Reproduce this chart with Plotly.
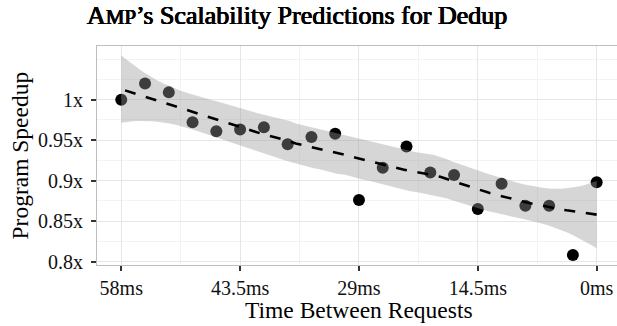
import numpy as np
import plotly.graph_objects as go

# ---- data ----
time_ms = [58.0, 55.1, 52.2, 49.3, 46.4, 43.5, 40.6, 37.7, 34.8, 31.9, 29.0,
           26.1, 23.2, 20.3, 17.4, 14.5, 11.6, 8.7, 5.8, 2.9, 0.0]
speedup = [1.000, 1.020, 1.009, 0.972, 0.961, 0.963, 0.966, 0.945, 0.954, 0.958, 0.876,
           0.916, 0.942, 0.910, 0.907, 0.865, 0.896, 0.869, 0.869, 0.808, 0.898]
x_tick_vals = [58, 43.5, 29, 14.5, 0]
x_tick_text = ["58ms", "43.5ms", "29ms", "14.5ms", "0ms"]
y_tick_vals = [0.8, 0.85, 0.9, 0.95, 1.0]
y_tick_text = ["0.8x", "0.85x", "0.9x", "0.95x", "1x"]

x = np.array(time_ms)
y = np.array(speedup)
n = len(x)


def t_quantile(df, z=1.959963985):
    g1 = (z**3 + z) / 4
    g2 = (5*z**5 + 16*z**3 + 3*z) / 96
    g3 = (3*z**7 + 19*z**5 + 17*z**3 - 15*z) / 384
    g4 = (79*z**9 + 776*z**7 + 1482*z**5 - 1920*z**3 - 945*z) / 92160
    return z + g1/df + g2/df**2 + g3/df**3 + g4/df**4


def loess_row(x0, span=0.75, degree=2):
    q = int(np.floor(n * span))
    d = np.abs(x - x0)
    h = np.sort(d)[q - 1]
    u = np.clip(d / h, 0, 1)
    w = (1 - u**3)**3
    X = np.vstack([(x - x0)**k for k in range(degree + 1)]).T
    XtW = X.T * w
    A = np.linalg.solve(XtW @ X, XtW)
    return A[0]


# loess smoother (as geom_smooth) with 95% confidence band
L = np.array([loess_row(xi) for xi in x])
IL = np.eye(n) - L
M = IL.T @ IL
d1 = np.trace(M)
d2 = np.trace(M @ M)
rss = np.sum((IL @ y)**2)
sigma = np.sqrt(rss / d1)
tq = t_quantile(d1**2 / d2)

xs = np.linspace(x.min(), x.max(), 80)
rows = np.array([loess_row(v) for v in xs])
fit = rows @ y
se = sigma * np.sqrt(np.sum(rows**2, axis=1))
upper = fit + tq * se
lower = fit - tq * se

FONT = "Liberation Serif"

fig = go.Figure()
fig.add_trace(go.Scatter(x=time_ms, y=speedup, mode="markers",
                         marker=dict(size=12, color="black"), showlegend=False,
                         hoverinfo="skip"))
fig.add_trace(go.Scatter(x=list(xs) + list(xs[::-1]),
                         y=list(upper) + list(lower[::-1]),
                         mode="lines", fill="toself",
                         fillcolor="rgba(153,153,153,0.4)",
                         line=dict(width=0), showlegend=False, hoverinfo="skip"))
fig.add_trace(go.Scatter(x=xs, y=fit, mode="lines",
                         line=dict(color="black", width=2.6, dash="11px,10.7px"),
                         showlegend=False, hoverinfo="skip"))

axis_common = dict(
    automargin=False,
    showline=True, mirror=True, linecolor="#BEBEBE", linewidth=1.2,
    ticks="outside", ticklen=5, tickwidth=1.5, tickcolor="#333333",
    showgrid=True, gridcolor="#E6E6E6", gridwidth=1.2, zeroline=False,
    tickfont=dict(family=FONT, size=20, color="#111111"),
)

fig.update_layout(
    width=617, height=326,
    margin=dict(l=97, r=0, t=46, b=61, autoexpand=False),
    paper_bgcolor="white", plot_bgcolor="white",
    title=dict(
        text="A<span style='font-size:21px'>MP</span>’s Scalability Predictions for Dedup",
        font=dict(family=FONT, size=26, color="black", weight="normal",
                  shadow="0.6px 0 0 #000, -0.3px 0 0 #000, 0 0.3px 0 #000"),
        x=297/617, xanchor="center", xref="container",
        y=1 - 6/326, yanchor="top", yref="container",
    ),
    xaxis=dict(range=[60.96, -2.48], tickmode="array", tickvals=x_tick_vals,
               ticktext=x_tick_text,
               minor=dict(tickmode="array", tickvals=[50.75, 36.25, 21.75, 7.25],
                          showgrid=True, gridcolor="#F3F3F3", gridwidth=1, ticks=""),
               **axis_common),
    yaxis=dict(range=[0.7957, 1.0663], tickmode="array", tickvals=y_tick_vals,
               ticktext=y_tick_text, ticklabelstandoff=4,
               minor=dict(tickmode="array",
                          tickvals=[0.825, 0.875, 0.925, 0.975, 1.025, 1.05],
                          showgrid=True, gridcolor="#F3F3F3", gridwidth=1, ticks=""),
               **axis_common),
    annotations=[
        dict(text="Time Between Requests", xref="paper", yref="paper",
             x=(359 - 97) / 520, y=-(310 - 265) / 219, xanchor="center", yanchor="middle",
             showarrow=False, font=dict(family=FONT, size=23.5, color="black")),
        dict(text="Program Speedup", xref="paper", yref="paper",
             x=(19 - 97) / 520, y=0.5, xanchor="center", yanchor="middle",
             textangle=-90, showarrow=False,
             font=dict(family=FONT, size=23.5, color="black")),
    ],
)

fig.write_html("out.html", config={"displayModeBar": False},
               post_script="document.body.style.margin='0';document.body.style.overflow='hidden';")
